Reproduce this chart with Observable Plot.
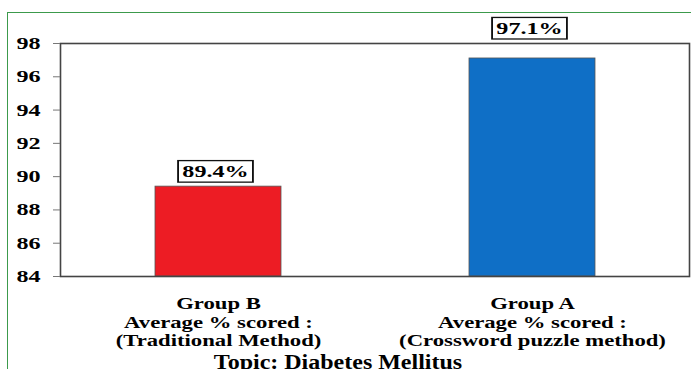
<!DOCTYPE html>
<html>
<head>
<meta charset="utf-8">
<script src="https://cdn.jsdelivr.net/npm/d3@7"></script>
<script src="https://cdn.jsdelivr.net/npm/@observablehq/plot@0.6"></script>
<style>
  html, body { margin: 0; padding: 0; background: #fff; width: 691px; height: 369px; overflow: hidden; }
  #border { position: absolute; left: 7px; top: 12px; width: 800px; height: 500px; border: 1.6px solid #3c9a4c; box-sizing: border-box; }
  #chart { position: absolute; left: 0; top: 0; }
  #chart svg, #chart svg text, #chart svg tspan, #chart svg g { font-family: "Liberation Serif", "Times New Roman", serif !important; font-weight: bold !important; }
</style>
</head>
<body>
<div id="border"></div>
<div id="chart"></div>
<script>
const categories = [
  "Group B\nAverage % scored :\n(Traditional Method)",
  "Group A\nAverage % scored :\n(Crossword puzzle method)"
];
const values = [89.4, 97.1];
const valueLabels = ["89.4%", "97.1%"];
const colors = ["#ED1C24", "#0F6FC6"];
const yTicks = [84, 86, 88, 90, 92, 94, 96, 98];
const topic = "Topic: Diabetes Mellitus";

const data = categories.map((c, i) => ({ cat: c, value: values[i], label: valueLabels[i], color: colors[i] }));

const plot = Plot.plot({
  width: 691,
  height: 369,
  marginLeft: 60,
  marginRight: 2,
  marginTop: 43,
  marginBottom: 93,
  style: { background: "transparent", fontSize: "16px", color: "#000", overflow: "visible" },
  x: { domain: categories, paddingInner: 0.6, paddingOuter: 0.3, label: null },
  y: { domain: [yTicks[0], yTicks[yTicks.length - 1]], label: null },
  marks: [
    Plot.barY(data, { x: "cat", y1: () => yTicks[0], y2: "value", fill: "color", stroke: "#555", strokeWidth: 0.8 }),
    Plot.frame({ stroke: "#444", strokeWidth: 1.6 }),
    Plot.axisY({ ticks: yTicks, tickSize: 7, tickPadding: 13, stroke: "#777", fontSize: 17, label: null, tickFormat: d => String(d), className: "ytick" }),
    Plot.axisX({ tickSize: 0, tickPadding: 19, fontSize: 16, lineHeight: 1.17, label: null, className: "xtick" }),
    Plot.text(data.filter((d, i) => i === 0), { x: "cat", y: "value", text: "label", dy: -15, dx: -3, fontSize: 17, className: "vlabel", fill: "#000" }),
    Plot.text(data.filter((d, i) => i === 1), { x: "cat", y: "value", text: "label", dy: -30, dx: -3, fontSize: 17, className: "vlabel", fill: "#000" }),
    Plot.text([topic], { frameAnchor: "bottom", lineAnchor: "bottom", dy: 92, dx: -37, fontSize: 20, fill: "#000", className: "topic" })
  ]
});

document.getElementById("chart").appendChild(plot);

// horizontal stretch of the text, as in the reference image
function stretch(sel, k) {
  plot.querySelectorAll(sel).forEach(t => {
    t.setAttribute("transform", (t.getAttribute("transform") || "") + ` scale(${k},1)`);
  });
}
stretch("g.ytick text", 1.42);
stretch("g.xtick text", 1.42);
stretch("g.vlabel text", 1.42);
stretch("g.topic text", 1.2);

// draw boxes around the value labels
plot.querySelectorAll("g.vlabel text").forEach(t => {
  const bb = t.getBBox();
  const padX = 3, padY = 1;
  const r = document.createElementNS("http://www.w3.org/2000/svg", "rect");
  r.setAttribute("x", bb.x - padX);
  r.setAttribute("y", bb.y - padY);
  r.setAttribute("width", bb.width + 2 * padX);
  r.setAttribute("height", bb.height + 2 * padY);
  r.setAttribute("fill", "#fff");
  r.setAttribute("stroke", "#111");
  r.setAttribute("stroke-width", "1.3");
  const tr = t.getAttribute("transform");
  if (tr) r.setAttribute("transform", tr);
  t.parentNode.insertBefore(r, t);
});
</script>
</body>
</html>
